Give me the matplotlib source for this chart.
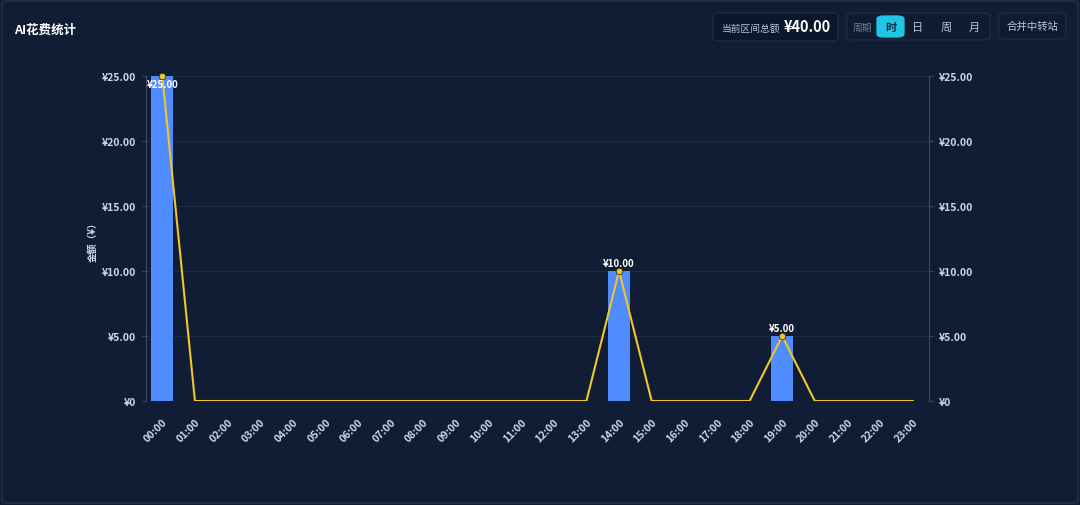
import matplotlib
matplotlib.use("Agg")
import matplotlib.pyplot as plt
from matplotlib.patches import FancyBboxPatch
import numpy as np

plt.rcParams['font.family'] = ['Noto Sans CJK SC', 'DejaVu Sans']

hours = ["00:00", "01:00", "02:00", "03:00", "04:00", "05:00", "06:00", "07:00",
         "08:00", "09:00", "10:00", "11:00", "12:00", "13:00", "14:00", "15:00",
         "16:00", "17:00", "18:00", "19:00", "20:00", "21:00", "22:00", "23:00"]
costs = [25, 0, 0, 0, 0, 0, 0, 0, 0, 0, 0, 0, 0, 0, 10, 0, 0, 0, 0, 5, 0, 0, 0, 0]
y_ticks = [0, 5, 10, 15, 20, 25]
title = "AI花费统计"
total_label = "当前区间总额"
total_value = "¥40.00"
period_labels = ["周期", "时", "日", "周", "月"]
merge_label = "合并中转站"
y_label = "金额（¥）"

BG = "#101d34"
TXT = "#c9d6ea"
BAR = "#4f8cff"
LINE = "#f2c62a"
GRID = "#1e2b45"
AXIS = "#3a4964"

W, H = 1080, 506
fig = plt.figure(figsize=(W / 100, H / 100), dpi=100)
fig.patch.set_facecolor(BG)

def fx(px):
    return px / W

def fy(py):
    return 1 - py / H

# outer panel border
fig.patches.append(FancyBboxPatch((fx(2), fy(504)), fx(1076), 502 / H,
                                  boxstyle="round,pad=0,rounding_size=0.006",
                                  transform=fig.transFigure, facecolor="none",
                                  edgecolor="#22314d", linewidth=1.2, zorder=-10))

def box(x0, y0, x1, y1, fc, ec):
    fig.patches.append(FancyBboxPatch((fx(x0), fy(y1)), fx(x1 - x0), (y1 - y0) / H,
                                      boxstyle="round,pad=0,rounding_size=0.006",
                                      transform=fig.transFigure, facecolor=fc,
                                      edgecolor=ec, linewidth=0.9, zorder=-5))

fig.text(fx(14), fy(30), title, color="white", fontsize=9, fontweight="bold",
         va="center", ha="left")

# total box
box(713, 14, 838, 42, "#0c172b", "#1f2d48")
fig.text(fx(722), fy(28.5), total_label, color="#b8c6dc", fontsize=7, va="center", ha="left")
fig.text(fx(831), fy(27.5), total_value, color="white", fontsize=10.5, fontweight="bold",
         va="center", ha="right")

# period segmented box
box(847, 14, 990, 41, "#0f1b31", "#1f2d48")
box(877, 17, 904, 38, "#1fc6e4", "#1fc6e4")
px_pos = [862, 890.5, 918, 946, 974]
for lbl, px in zip(period_labels, px_pos):
    col = "#6d7c95" if lbl == "周期" else ("#0d2a3a" if lbl == "时" else "#b8c6dc")
    fig.text(fx(px), fy(28), lbl, color=col, fontsize=8 if lbl != "周期" else 7,
             va="center", ha="center", fontweight="bold" if lbl == "时" else "normal")

# merge box
box(999, 14, 1066, 40, "#0f1b31", "#1f2d48")
fig.text(fx(1032.5), fy(27), merge_label, color="#b8c6dc", fontsize=7.5,
         va="center", ha="center")

# main axes
ax = fig.add_axes([fx(146), fy(402), fx(929 - 146), (402 - 77) / H])
ax.set_facecolor("none")
x = np.arange(len(hours))
ax.bar(x, costs, width=0.68, color=BAR, zorder=2)
ax.plot(x, costs, color=LINE, linewidth=1.5, zorder=3)
nz = [i for i, v in enumerate(costs) if v > 0]
ax.scatter([x[i] for i in nz], [costs[i] for i in nz], s=22, color=LINE,
           edgecolor="#3a3000", linewidth=0.6, zorder=4, clip_on=False)

ax.set_xlim(-0.5, len(hours) - 0.5)
ax.set_ylim(0, max(y_ticks))
ax.set_yticks(y_ticks)

def yen(v):
    return "¥0" if v == 0 else f"¥{v:.2f}"

ax.set_yticklabels([yen(v) for v in y_ticks])
ax.set_xticks(x)
ax.set_xticklabels(hours, rotation=45, ha="right", rotation_mode="anchor")
ax.tick_params(axis="x", length=0, pad=11, colors=TXT, labelsize=7.5)
ax.tick_params(axis="y", length=3, color=AXIS, colors=TXT, labelsize=7.5, pad=4)
for lab in ax.get_xticklabels() + ax.get_yticklabels():
    lab.set_fontweight("bold")
    lab.set_color(TXT)

ax.grid(axis="y", color=GRID, linewidth=0.8, zorder=0)
ax.set_axisbelow(True)
for s in ["top", "right", "bottom"]:
    ax.spines[s].set_visible(False)
ax.spines["left"].set_color(AXIS)
ax.axhline(0, color="#2a3a56", linewidth=0.8, zorder=1)

for i in nz:
    v = costs[i]
    off = -6 if v >= max(y_ticks) else 6
    ax.annotate(yen(v), (x[i], v), xytext=(0, off), textcoords="offset points",
                ha="center", va="center", color="white", fontsize=7,
                fontweight="bold", zorder=5)

ax.set_ylabel(y_label, color=TXT, fontsize=7, fontweight="bold", labelpad=3)

ax2 = ax.twinx()
ax2.set_ylim(ax.get_ylim())
ax2.set_yticks(y_ticks)
ax2.set_yticklabels([yen(v) for v in y_ticks])
ax2.tick_params(axis="y", length=3, color=AXIS, colors=TXT, labelsize=7.5, pad=4)
for lab in ax2.get_yticklabels():
    lab.set_fontweight("bold")
for s in ["top", "left", "bottom"]:
    ax2.spines[s].set_visible(False)
ax2.spines["right"].set_color(AXIS)

fig.savefig("out.png", dpi=100, facecolor=BG)
